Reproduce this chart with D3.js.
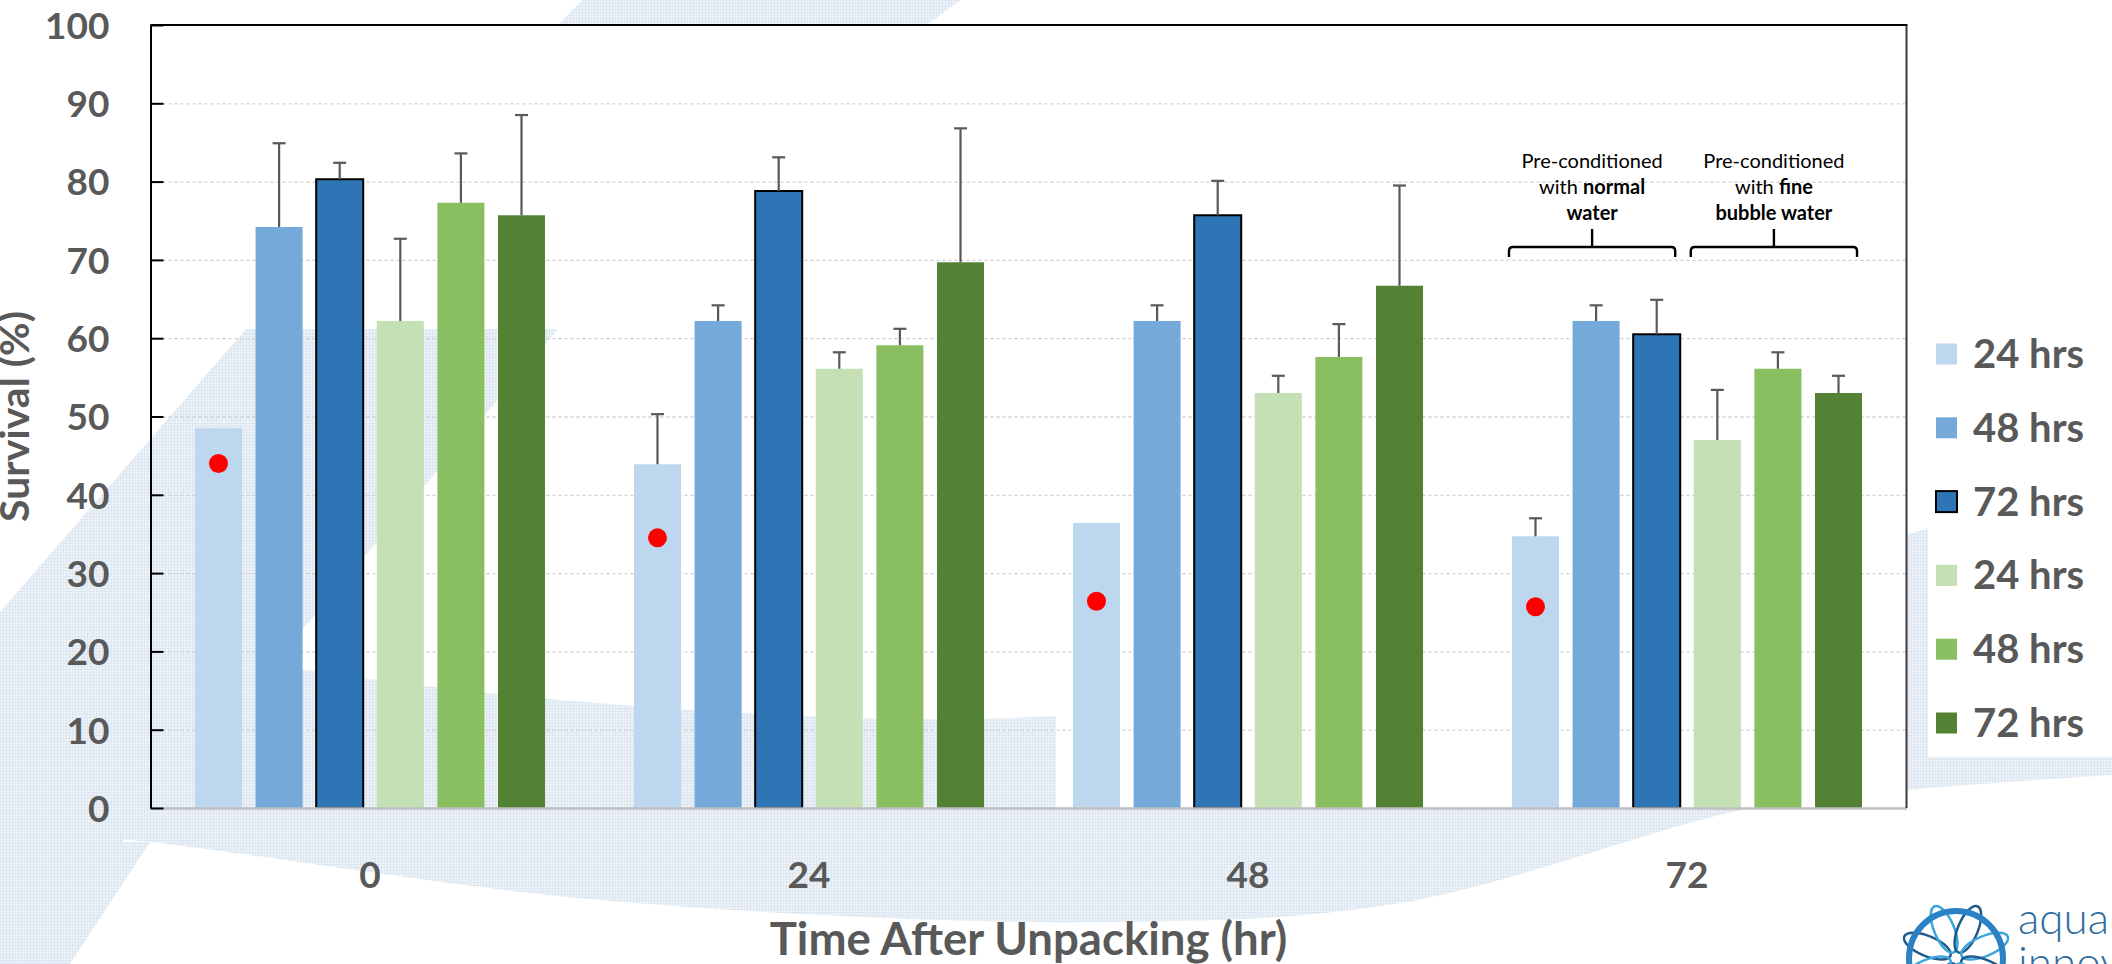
<!DOCTYPE html>
<html>
<head>
<meta charset="utf-8">
<title>Survival after unpacking</title>
<script src="https://cdn.jsdelivr.net/npm/d3@7"></script>
<style>
  html, body { margin: 0; padding: 0; background: #ffffff; }
  svg { display: block; }
  text { font-family: Lato, "Open Sans", "DejaVu Sans", sans-serif; }
</style>
</head>
<body>
<svg id="chart" width="2112" height="964"></svg>
<script>
// ---- data ---------------------------------------------------------------
const categories = ["0", "24", "48", "72"];            // time after unpacking (hr)
const seriesKeys = ["nw24", "nw48", "nw72", "fb24", "fb48", "fb72"];
const seriesLabels = ["24 hrs", "48 hrs", "72 hrs", "24 hrs", "48 hrs", "72 hrs"];
const seriesColors = ["#BDD7EE", "#74A9DA", "#2E75B6", "#C5E0B4", "#89BF61", "#548235"];

// survival (%) per pre-conditioning period, normal water (nw) and fine bubble water (fb)
const nw24 = [48.5, 43.9, 36.4, 34.7];
const nw48 = [74.2, 62.2, 62.2, 62.2];
const nw72 = [80.3, 78.8, 75.7, 60.5];
const fb24 = [62.2, 56.1, 53.0, 47.0];
const fb48 = [77.3, 59.1, 57.6, 56.1];
const fb72 = [75.7, 69.7, 66.7, 53.0];

// upper error (standard deviation), null where no bar is drawn
const nw24Err = [null, 6.4, null, 2.3];
const nw48Err = [10.7, 2.0, 2.0, 2.0];
const nw72Err = [2.1, 4.3, 4.4, 4.4];
const fb24Err = [10.5, 2.1, 2.2, 6.4];
const fb48Err = [6.3, 2.1, 4.2, 2.1];
const fb72Err = [12.8, 17.1, 12.8, 2.2];

// control survival, shown as a red marker on the first bar of each group
const controlSurvival = [44.0, 34.5, 26.4, 25.7];

const yTicks = [0, 10, 20, 30, 40, 50, 60, 70, 80, 90, 100];

const seriesValues = [nw24, nw48, nw72, fb24, fb48, fb72];
const seriesErrors = [nw24Err, nw48Err, nw72Err, fb24Err, fb48Err, fb72Err];

// ---- layout -------------------------------------------------------------
const W = 2112, H = 964;
const plot = { left: 150.5, right: 1906.5, top: 25, bottom: 808 };
const textGray = "#595959";

const svg = d3.select("#chart");

const x0 = d3.scaleBand().domain(categories).range([plot.left, plot.right]).padding(0);
const x1 = d3.scaleBand().domain(seriesKeys).range([0, x0.bandwidth()])
  .paddingInner(0.224).paddingOuter(0.734);
const y = d3.scaleLinear().domain([0, 100]).range([plot.bottom, plot.top]);

// ---- background watermark ----------------------------------------------
const defs = svg.append("defs");
const mesh = defs.append("pattern").attr("id", "mesh")
  .attr("patternUnits", "userSpaceOnUse").attr("width", 3).attr("height", 3);
mesh.append("rect").attr("width", 3).attr("height", 3).attr("fill", "#eef3f8");
mesh.append("rect").attr("width", 3).attr("height", 1).attr("fill", "#dce7f1");
mesh.append("rect").attr("width", 1).attr("height", 3).attr("fill", "#dce7f1");

const wm = svg.append("g").attr("class", "watermark").attr("fill", "url(#mesh)");
const poly = pts => "M" + pts.map(p => p.join(",")).join("L") + "Z";

// thin band across the top edge
wm.append("path").attr("d", poly([[582, 0], [961, 0], [926, 25], [558, 25]]));
// diagonal band through the lower left
wm.append("path").attr("d", poly([[246, 329], [558, 329], [18, 964], [-306, 964]]));
// sweeping arc along the bottom
const curve = d3.line().curve(d3.curveCatmullRom.alpha(0.5));
const sweepTop = [[0, 612], [150, 645], [561, 700], [1056, 716], [1500, 650], [1906, 535], [2112, 470]];
const sweepBottom = [[2112, 775], [1906, 790], [1751, 808], [1400, 903], [1100, 922], [600, 900], [150, 842], [0, 828]];
wm.append("path").attr("d", curve(sweepTop) + "L" + curve(sweepBottom).slice(1) + "Z");
// short stripe in the bottom-left corner
wm.append("path").attr("d", poly([[150, 842], [70, 964], [0, 964], [80, 842]]));

// white panels laid over the watermark
const cover = svg.append("g").attr("fill", "#ffffff");
cover.append("rect").attr("x", 0).attr("y", 25).attr("width", W).attr("height", 304);
cover.append("rect").attr("x", 1056).attr("y", 25).attr("width", plot.right - 1056).attr("height", plot.bottom - 25);
cover.append("rect").attr("x", 1928).attr("y", 329).attr("width", W - 1928).attr("height", 428);

// ---- gridlines ------------------------------------------------------------
svg.append("g")
  .attr("transform", `translate(${plot.left},0)`)
  .call(d3.axisLeft(y).tickValues(yTicks.filter(t => t > 0 && t < 100))
    .tickSize(-(plot.right - plot.left)).tickFormat(""))
  .call(g => g.select(".domain").remove())
  .call(g => g.selectAll(".tick line")
    .attr("stroke", "#cfcfcf").attr("stroke-width", 1.3).attr("stroke-dasharray", "3,3"));

// ---- bars -----------------------------------------------------------------
const rows = [];
categories.forEach((c, ci) => {
  seriesKeys.forEach((k, si) => {
    rows.push({ cat: c, key: k, si, value: seriesValues[si][ci], err: seriesErrors[si][ci] });
  });
});

const bars = svg.append("g").attr("class", "bars");
bars.selectAll("rect")
  .data(rows)
  .join("rect")
  .attr("x", d => x0(d.cat) + x1(d.key))
  .attr("y", d => y(d.value))
  .attr("width", x1.bandwidth())
  .attr("height", d => y(0) - y(d.value))
  .attr("fill", d => seriesColors[d.si])
  .attr("stroke", d => d.key === "nw72" ? "#000000" : "none")
  .attr("stroke-width", d => d.key === "nw72" ? 2 : 0);

// ---- error bars (upper only) ---------------------------------------------
const capHalf = 6.5;
const errG = svg.append("g").attr("stroke", "#595959").attr("stroke-width", 2.2);
const errRows = rows.filter(d => d.err != null);
errG.selectAll("line.stem")
  .data(errRows)
  .join("line")
  .attr("class", "stem")
  .attr("x1", d => x0(d.cat) + x1(d.key) + x1.bandwidth() / 2)
  .attr("x2", d => x0(d.cat) + x1(d.key) + x1.bandwidth() / 2)
  .attr("y1", d => y(d.value))
  .attr("y2", d => y(d.value + d.err));
errG.selectAll("line.cap")
  .data(errRows)
  .join("line")
  .attr("class", "cap")
  .attr("x1", d => x0(d.cat) + x1(d.key) + x1.bandwidth() / 2 - capHalf)
  .attr("x2", d => x0(d.cat) + x1(d.key) + x1.bandwidth() / 2 + capHalf)
  .attr("y1", d => y(d.value + d.err))
  .attr("y2", d => y(d.value + d.err));

// ---- control markers ------------------------------------------------------
svg.append("g").selectAll("circle")
  .data(categories.map((c, i) => ({ cat: c, v: controlSurvival[i] })))
  .join("circle")
  .attr("cx", d => x0(d.cat) + x1("nw24") + x1.bandwidth() / 2)
  .attr("cy", d => y(d.v))
  .attr("r", 9.5)
  .attr("fill", "#FF0000");

// ---- frame and axes -------------------------------------------------------
// bottom axis with category labels
svg.append("g")
  .attr("transform", `translate(0,${plot.bottom})`)
  .call(d3.axisBottom(x0).tickSize(0).tickPadding(54))
  .call(g => g.select(".domain").attr("stroke", "#bfbfbf").attr("stroke-width", 2.5))
  .call(g => g.selectAll("text")
    .attr("fill", textGray).attr("font-size", 37).attr("font-weight", 700)
    .attr("font-family", "Lato, sans-serif"));

// top and right border
svg.append("line").attr("x1", plot.left).attr("x2", plot.right + 1)
  .attr("y1", plot.top).attr("y2", plot.top).attr("stroke", "#000").attr("stroke-width", 2);
svg.append("line").attr("x1", plot.right).attr("x2", plot.right)
  .attr("y1", plot.top).attr("y2", plot.bottom).attr("stroke", "#3a3a3a").attr("stroke-width", 2);

// left axis, ticks point into the plot
svg.append("g")
  .attr("transform", `translate(${plot.left},0)`)
  .call(d3.axisLeft(y).tickValues(yTicks).tickSize(-13).tickSizeOuter(0).tickPadding(41))
  .call(g => g.select(".domain").attr("stroke", "#000").attr("stroke-width", 2))
  .call(g => g.selectAll(".tick line").attr("stroke", "#000").attr("stroke-width", 2))
  .call(g => g.selectAll("text")
    .attr("fill", textGray).attr("font-size", 37).attr("font-weight", 700)
    .attr("font-family", "Lato, sans-serif").attr("dy", "0.36em"));

// axis titles
svg.append("text")
  .attr("transform", `translate(29,${(plot.top + plot.bottom) / 2}) rotate(-90)`)
  .attr("text-anchor", "middle")
  .attr("fill", textGray).attr("font-size", 41).attr("font-weight", 700)
  .text("Survival (%)");

svg.append("text")
  .attr("x", (plot.left + plot.right) / 2)
  .attr("y", 955)
  .attr("text-anchor", "middle")
  .attr("fill", textGray).attr("font-size", 45.5).attr("font-weight", 700)
  .text("Time After Unpacking (hr)");

// ---- group annotations over the 72 h cluster ------------------------------
const lastCat = categories[categories.length - 1];
const groups = [
  { from: "nw24", to: "nw72", lines: [[["Pre-conditioned", 400]], [["with ", 400], ["normal", 700]], [["water", 700]]] },
  { from: "fb24", to: "fb72", lines: [[["Pre-conditioned", 400]], [["with ", 400], ["fine", 700]], [["bubble water", 700]]] }
];
const ann = svg.append("g");
groups.forEach(gr => {
  const xa = x0(lastCat) + x1(gr.from) - 3;
  const xb = x0(lastCat) + x1(gr.to) + x1.bandwidth() - 5;
  const cx = (xa + xb) / 2;
  const t = ann.append("text").attr("text-anchor", "middle").attr("font-size", 20).attr("fill", "#000");
  gr.lines.forEach((ln, li) => {
    const line = t.append("tspan").attr("x", cx).attr("y", 168 + li * 26);
    ln.forEach(([s, w]) => line.append("tspan").attr("font-weight", w).text(s));
  });
  ann.append("path")
    .attr("d", `M${xa},257 L${xa},251 Q${xa},247 ${xa + 4},247 L${xb - 4},247 Q${xb},247 ${xb},251 L${xb},257`)
    .attr("fill", "none").attr("stroke", "#000").attr("stroke-width", 2.4);
  ann.append("line").attr("x1", cx).attr("x2", cx).attr("y1", 247).attr("y2", 229)
    .attr("stroke", "#000").attr("stroke-width", 2.4);
});

// ---- legend -------------------------------------------------------------
const legend = svg.append("g").attr("transform", "translate(1936,354)");
const li = legend.selectAll("g").data(seriesKeys).join("g")
  .attr("transform", (d, i) => `translate(0,${i * 73.8})`);
li.append("rect")
  .attr("x", 0).attr("y", -10.5).attr("width", 21).attr("height", 21)
  .attr("fill", (d, i) => seriesColors[i])
  .attr("stroke", d => d === "nw72" ? "#000" : "none")
  .attr("stroke-width", 2);
li.append("text")
  .attr("x", 37).attr("y", 14)
  .attr("fill", textGray).attr("font-size", 40).attr("font-weight", 700)
  .text((d, i) => seriesLabels[i]);

// ---- company mark, bottom right -----------------------------------------------
const logo = svg.append("g").attr("transform", "translate(1956,958)");
const petalAngles = d3.range(8).map(i => -157.5 + i * 45);
logo.selectAll("ellipse").data(petalAngles).join("ellipse")
  .attr("transform", a => `rotate(${a}) translate(31,0)`)
  .attr("rx", 25).attr("ry", 10)
  .attr("fill", "none")
  .attr("stroke", (a, i) => i % 2 ? "#3aa6dc" : "#1f5a8a")
  .attr("stroke-width", 2.5);
logo.append("circle").attr("r", 47).attr("fill", "none")
  .attr("stroke", "#2a82c4").attr("stroke-width", 6);
const brand = svg.append("text").attr("fill", "#2f6e9e").attr("font-size", 44).attr("font-weight", 300);
brand.append("tspan").attr("x", 2018).attr("y", 934).text("aqua");
brand.append("tspan").attr("x", 2018).attr("y", 978).text("innovo");
</script>
</body>
</html>
